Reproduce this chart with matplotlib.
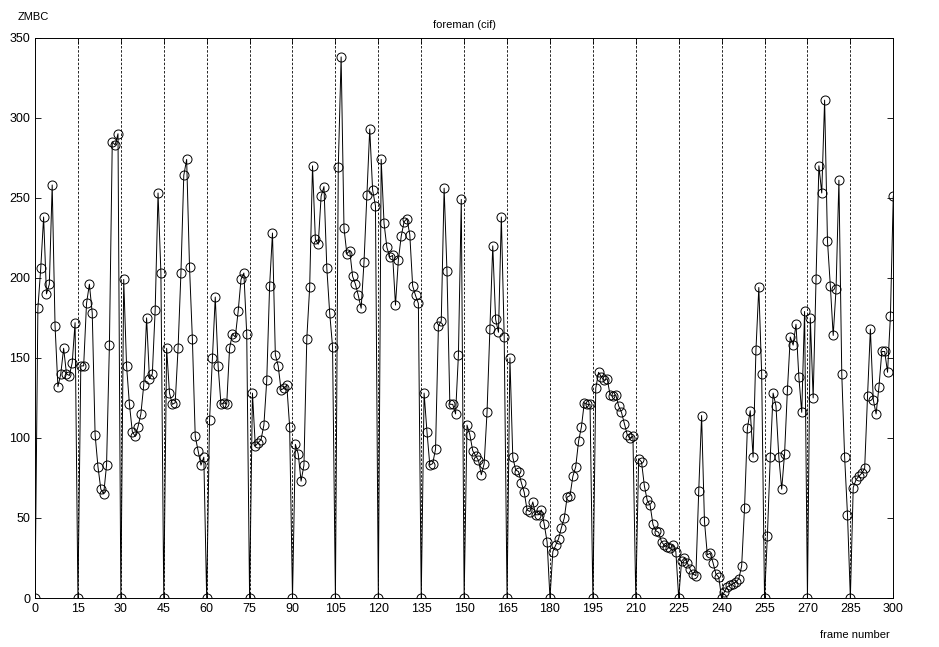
import numpy as np
import matplotlib
matplotlib.use("Agg")
import matplotlib.pyplot as plt

plt.rcParams['font.family'] = ['Liberation Sans', 'DejaVu Sans']

# ZMBC per frame, one GOP (15 frames) per row, last row also holds frame 300
zmbc = [
    0, 181, 206, 238, 190, 196, 258, 170, 132, 140, 156, 140, 139, 147, 172,
    0, 145, 145, 184, 196, 178, 102, 82, 68, 65, 83, 158, 285, 283, 290,
    0, 199, 145, 121, 104, 101, 107, 115, 133, 175, 137, 140, 180, 253, 203,
    0, 156, 128, 121, 122, 156, 203, 264, 274, 207, 162, 101, 92, 83, 88,
    0, 111, 150, 188, 145, 121, 122, 121, 156, 165, 163, 179, 199, 203, 165,
    0, 128, 95, 97, 99, 108, 136, 195, 228, 152, 145, 130, 131, 133, 107,
    0, 96, 90, 73, 83, 162, 194, 270, 224, 221, 251, 257, 206, 178, 157,
    0, 269, 338, 231, 215, 217, 201, 196, 189, 181, 210, 252, 293, 255, 245,
    0, 274, 234, 219, 213, 214, 183, 211, 226, 235, 237, 227, 195, 189, 184,
    0, 128, 104, 83, 84, 93, 170, 173, 256, 204, 121, 121, 115, 152, 249,
    0, 108, 102, 92, 89, 86, 77, 84, 116, 168, 220, 174, 166, 238, 163,
    0, 150, 88, 80, 79, 72, 66, 55, 54, 60, 52, 52, 55, 46, 35,
    0, 29, 33, 37, 44, 50, 63, 64, 76, 82, 98, 107, 122, 121, 121,
    0, 131, 141, 138, 136, 137, 127, 126, 127, 120, 116, 109, 102, 100, 101,
    0, 87, 85, 70, 61, 58, 46, 42, 41, 35, 33, 32, 31, 33, 29,
    0, 23, 25, 22, 18, 15, 14, 67, 114, 48, 27, 28, 22, 15, 13,
    0, 4, 7, 8, 9, 10, 12, 20, 56, 106, 117, 88, 155, 194, 140,
    0, 39, 88, 128, 120, 88, 68, 90, 130, 163, 158, 171, 138, 116, 179,
    0, 175, 125, 199, 270, 253, 311, 223, 195, 164, 193, 261, 140, 88, 52,
    0, 69, 74, 76, 78, 81, 126, 168, 124, 115, 132, 154, 154, 141, 176, 251,
]
frame = np.arange(len(zmbc))

gop_lines = list(range(15, 300, 15))
xticks = list(range(0, 301, 15))
yticks = list(range(0, 351, 50))

fig = plt.figure(figsize=(9.39, 6.47), dpi=100)
ax = fig.add_axes([0.0373, 0.0757, 0.914, 0.866])

for g in gop_lines:
    ax.axvline(g, color='black', lw=0.6, ls=(0, (3, 2)))

ax.plot(frame, zmbc, color='black', lw=0.7, marker='o', ms=6.5,
        mfc='none', mec='black', mew=0.7)

ax.set_xlim(0, 300)
ax.set_ylim(0, 350)
ax.set_xticks(xticks)
ax.set_yticks(yticks)
ax.tick_params(direction='in', top=True, right=True, labelsize=9, length=4, width=0.6)
for s in ax.spines.values():
    s.set_linewidth(0.7)

ax.set_title("foreman (cif)", fontsize=8, pad=7)
fig.text(0.019, 0.973, "ZMBC", fontsize=8, ha='left', va='center')
fig.text(0.948, 0.018, "frame number", fontsize=8, ha='right', va='center')

fig.savefig("out.png", dpi=100)
